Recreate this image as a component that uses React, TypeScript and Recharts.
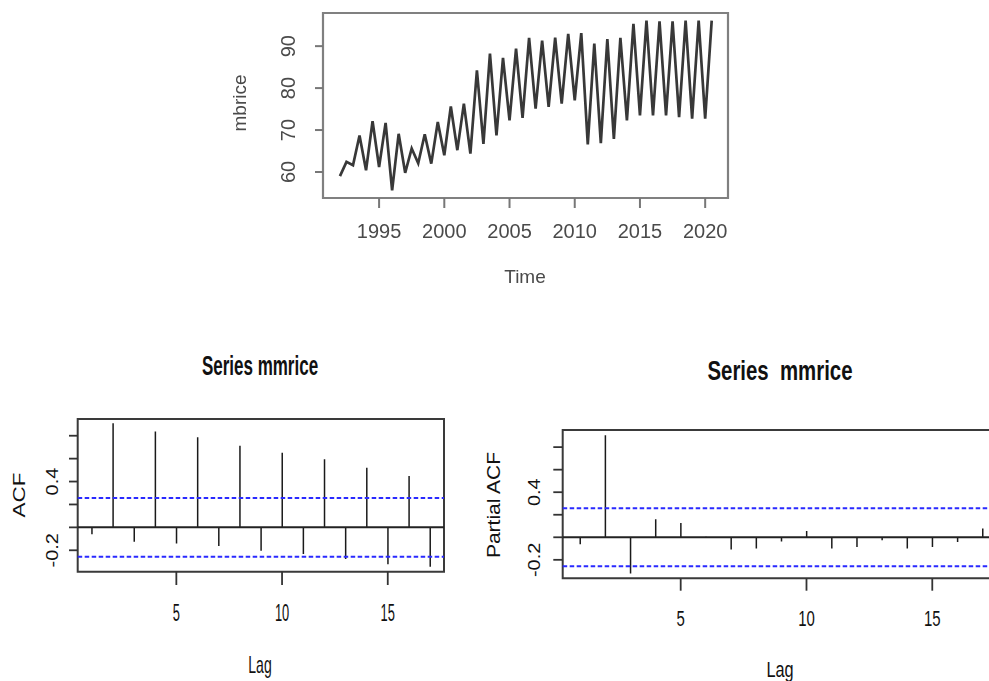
import React from 'react';
import { ComposedChart, LineChart, Line, Bar, XAxis, YAxis, ReferenceLine, ReferenceArea } from 'recharts';

// semi-annual series
const years = [
  1992, 1992.5, 1993, 1993.5, 1994, 1994.5, 1995, 1995.5, 1996, 1996.5,
  1997, 1997.5, 1998, 1998.5, 1999, 1999.5, 2000, 2000.5, 2001, 2001.5,
  2002, 2002.5, 2003, 2003.5, 2004, 2004.5, 2005, 2005.5, 2006, 2006.5,
  2007, 2007.5, 2008, 2008.5, 2009, 2009.5, 2010, 2010.5, 2011, 2011.5,
  2012, 2012.5, 2013, 2013.5, 2014, 2014.5, 2015, 2015.5, 2016, 2016.5,
  2017, 2017.5, 2018, 2018.5, 2019, 2019.5, 2020, 2020.5,
];
const mbrice = [
  59.0, 62.4, 61.6, 68.7, 60.4, 72.1, 61.2, 71.7, 55.6, 69.1,
  59.8, 65.6, 62.1, 69.0, 62.0, 71.9, 64.0, 75.6, 65.2, 76.3,
  64.4, 84.2, 66.7, 88.2, 68.7, 87.2, 72.3, 89.4, 72.9, 92.0,
  75.1, 91.3, 75.5, 92.0, 76.3, 92.9, 77.1, 93.1, 66.6, 90.6,
  66.9, 91.7, 67.9, 92.0, 72.3, 95.3, 73.5, 96.1, 73.5, 95.9,
  73.5, 95.9, 73.1, 96.1, 72.7, 96.1, 72.7, 96.1,
];

const lags = [1, 2, 3, 4, 5, 6, 7, 8, 9, 10, 11, 12, 13, 14, 15, 16, 17];
const acfValues = [
  -0.061, 0.908, -0.125, 0.836, -0.14, 0.786, -0.163, 0.713, -0.204,
  0.652, -0.233, 0.594, -0.277, 0.521, -0.323, 0.448, -0.344,
];
const pacfValues = [
  -0.062, 0.905, -0.322, 0.16, 0.127, 0.004, -0.109, -0.1, -0.038,
  0.056, -0.1, -0.086, -0.027, -0.1, -0.086, -0.041, 0.077,
];
const ciBound = 0.257;

const yearTicks = [1995, 2000, 2005, 2010, 2015, 2020];
const priceTicks = [60, 70, 80, 90];
const lagTicks = [5, 10, 15];
const corrTicks = [-0.2, 0, 0.2, 0.4, 0.6, 0.8];
const corrLabels = [-0.2, 0.4];

const seriesData = years.map((t, i) => ({ t, v: mbrice[i] }));
const acfData = lags.map((lag, i) => ({ lag, acf: acfValues[i] }));
const pacfData = lags.map((lag, i) => ({ lag, pacf: pacfValues[i] }));

const FONT = "'Liberation Sans', Arial, Helvetica, sans-serif";
const BLUE = '#2a2aff';

const xTick = (dy: number, size: number, sx: number, fill: string) => (props: any) => {
  const { x, y, payload } = props;
  return (
    <text transform={`translate(${x},${y + dy}) scale(${sx},1)`} textAnchor="middle"
      fontSize={size} fontFamily={FONT} fill={fill}>{payload.value}</text>
  );
};

const yTick = (dx: number, size: number, sx: number, fill: string, shown?: number[]) => (props: any) => {
  const { x, y, payload } = props;
  if (shown && !shown.includes(payload.value)) return <g />;
  return (
    <text transform={`translate(${x + dx},${y}) scale(${sx},1) rotate(-90)`} textAnchor="middle"
      fontSize={size} fontFamily={FONT} fill={fill}>{String(payload.value)}</text>
  );
};

const Txt = ({ x, y, size, sx = 1, rot = false, bold = false, fill = '#111', children }: any) => (
  <text transform={`translate(${x},${y}) scale(${sx},1)${rot ? ' rotate(-90)' : ''}`} textAnchor="middle"
    fontSize={size} fontFamily={FONT} fontWeight={bold ? 700 : 400} fill={fill}
    style={{ whiteSpace: 'pre' }}>{children}</text>
);

const TimePlot = () => {
  const xDom: [number, number] = [1990.7, 2021.75];
  const yDom: [number, number] = [53.8, 97.9];
  return (
    <LineChart width={530} height={300} data={seriesData} margin={{ top: 13, right: 22, left: 0, bottom: 0 }}>
      <XAxis dataKey="t" type="number" domain={xDom} allowDataOverflow ticks={yearTicks} height={102}
        axisLine={false} tickSize={10} tickMargin={0} tickLine={{ stroke: '#777', strokeWidth: 2 }}
        tick={xTick(30, 20, 1, '#4a4a4a')} interval={0} />
      <YAxis type="number" domain={yDom} allowDataOverflow ticks={priceTicks} width={103}
        axisLine={false} tickSize={8} tickMargin={0} tickLine={{ stroke: '#777', strokeWidth: 2 }}
        tick={yTick(-20, 20, 1, '#4a4a4a')} interval={0} />
      <ReferenceArea x1={xDom[0]} x2={xDom[1]} y1={yDom[0]} y2={yDom[1]} fill="none" fillOpacity={0}
        stroke="#808080" strokeWidth={2.2} />
      <Line type="linear" dataKey="v" stroke="#383838" strokeWidth={2.7} dot={false} isAnimationActive={false} />
    </LineChart>
  );
};

const CorrPlot = ({ data, dataKey, width, yWidth, top, right, xHeight, yDom, xDom, ySize, xSize, ydx, xdy, ysx, xsx, xfs }: any) => (
  <ComposedChart width={width} height={341} data={data} margin={{ top, right, left: 0, bottom: 0 }}>
    <XAxis dataKey="lag" type="number" domain={xDom} allowDataOverflow ticks={lagTicks} height={xHeight}
      axisLine={false} tickSize={xSize} tickMargin={0} tickLine={{ stroke: '#333', strokeWidth: 1.8 }}
      tick={xTick(xdy, xfs, xsx, '#111')} interval={0} />
    <YAxis type="number" domain={yDom} allowDataOverflow ticks={corrTicks} width={yWidth}
      axisLine={false} tickSize={ySize} tickMargin={0} tickLine={{ stroke: '#333', strokeWidth: 1.8 }}
      tick={yTick(ydx, 20, ysx, '#111', corrLabels)} interval={0} />
    <ReferenceArea x1={xDom[0]} x2={xDom[1]} y1={yDom[0]} y2={yDom[1]} fill="none" fillOpacity={0}
      stroke="#3a3a3a" strokeWidth={2} />
    <ReferenceLine y={0} stroke="#222" strokeWidth={2} />
    <ReferenceLine y={ciBound} stroke={BLUE} strokeWidth={1.9} strokeDasharray="4.5 2.5" />
    <ReferenceLine y={-ciBound} stroke={BLUE} strokeWidth={1.9} strokeDasharray="4.5 2.5" />
    <Bar dataKey={dataKey} fill="#1a1a1a" barSize={1.5} isAnimationActive={false} />
  </ComposedChart>
);

export default function App() {
  return (
    <div style={{ position: 'absolute', left: 0, top: 0, width: 989, height: 681, overflow: 'hidden', background: '#fff' }}>
      <div style={{ position: 'absolute', left: 220, top: 0, filter: 'blur(0.5px)' }}>
        <TimePlot />
      </div>
      <div style={{ position: 'absolute', left: 0, top: 340 }}>
        <CorrPlot data={acfData} dataKey="acf" width={470} yWidth={77.7} top={79} right={26} xHeight={109.3}
          yDom={[-0.387, 0.946]} xDom={[0.334, 17.66]} ySize={8.7} xSize={13.3} ydx={-10.7} xdy={35.7}
          ysx={0.8} xsx={0.56} xfs={23} />
      </div>
      <div style={{ position: 'absolute', left: 470, top: 340 }}>
        <CorrPlot data={pacfData} dataKey="pacf" width={560} yWidth={92.7} top={90} right={30.8} xHeight={102.7}
          yDom={[-0.364, 0.952]} xDom={[0.31, 17.66]} ySize={9.4} xSize={12.4} ydx={-13.3} xdy={35}
          ysx={0.86} xsx={0.68} xfs={22} />
      </div>
      <svg width={989} height={681} style={{ position: 'absolute', left: 0, top: 0, pointerEvents: 'none' }}>
        <g style={{ filter: 'blur(0.5px)' }}>
          <Txt x={246} y={103} size={19} rot fill="#4a4a4a">mbrice</Txt>
          <Txt x={525} y={283} size={19} fill="#4a4a4a">Time</Txt>
        </g>
        <Txt x={260} y={375} size={27} sx={0.63} bold>Series mmrice</Txt>
        <Txt x={25} y={495} size={22.5} sx={0.73} rot>ACF</Txt>
        <Txt x={260} y={673} size={23} sx={0.61}>Lag</Txt>
        <Txt x={780} y={380} size={27} sx={0.755} bold>Series  mmrice</Txt>
        <Txt x={500} y={505} size={21} sx={0.86} rot>Partial ACF</Txt>
        <Txt x={780} y={677} size={22} sx={0.74}>Lag</Txt>
      </svg>
    </div>
  );
}
